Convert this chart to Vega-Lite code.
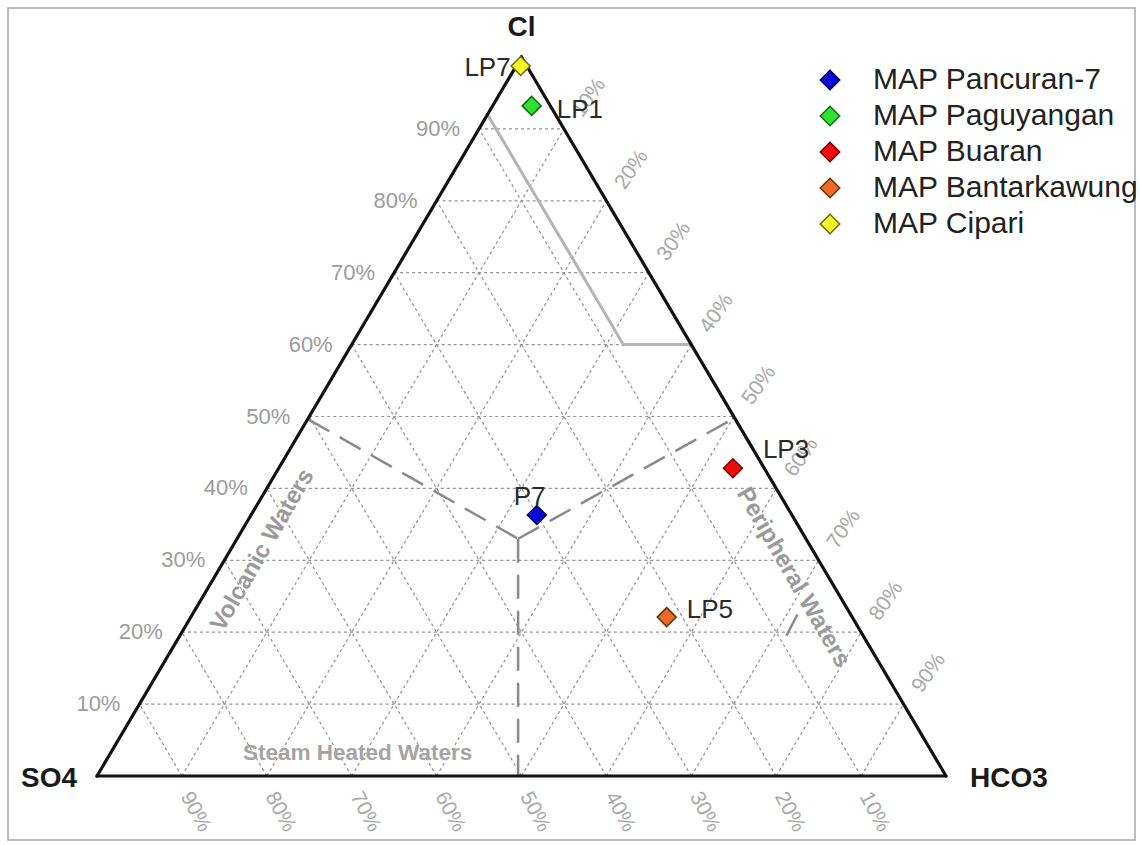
{
  "$schema": "https://vega.github.io/schema/vega-lite/v6.json",
  "width": 1127,
  "height": 832,
  "padding": {"left": 8, "top": 8, "right": 5, "bottom": 5},
  "autosize": {"type": "none"},
  "background": "white",
  "config": {
    "view": {"stroke": "#a8a8a8", "strokeWidth": 1.5},
    "font": "Liberation Sans",
    "text": {"font": "Liberation Sans", "baseline": "middle", "align": "center"}
  },
  "datasets": {
    "grid": [
      {"x": 5, "y": 10, "x2": 95, "y2": 10},
      {"x": 10, "y": 20, "x2": 90, "y2": 20},
      {"x": 15, "y": 30, "x2": 85, "y2": 30},
      {"x": 20, "y": 40, "x2": 80, "y2": 40},
      {"x": 25, "y": 50, "x2": 75, "y2": 50},
      {"x": 30, "y": 60, "x2": 70, "y2": 60},
      {"x": 35, "y": 70, "x2": 65, "y2": 70},
      {"x": 40, "y": 80, "x2": 60, "y2": 80},
      {"x": 45, "y": 90, "x2": 55, "y2": 90},
      {"x": 10, "y": 0, "x2": 55, "y2": 90},
      {"x": 20, "y": 0, "x2": 60, "y2": 80},
      {"x": 30, "y": 0, "x2": 65, "y2": 70},
      {"x": 40, "y": 0, "x2": 70, "y2": 60},
      {"x": 50, "y": 0, "x2": 75, "y2": 50},
      {"x": 60, "y": 0, "x2": 80, "y2": 40},
      {"x": 70, "y": 0, "x2": 85, "y2": 30},
      {"x": 80, "y": 0, "x2": 90, "y2": 20},
      {"x": 90, "y": 0, "x2": 95, "y2": 10},
      {"x": 90, "y": 0, "x2": 45, "y2": 90},
      {"x": 80, "y": 0, "x2": 40, "y2": 80},
      {"x": 70, "y": 0, "x2": 35, "y2": 70},
      {"x": 60, "y": 0, "x2": 30, "y2": 60},
      {"x": 50, "y": 0, "x2": 25, "y2": 50},
      {"x": 40, "y": 0, "x2": 20, "y2": 40},
      {"x": 30, "y": 0, "x2": 15, "y2": 30},
      {"x": 20, "y": 0, "x2": 10, "y2": 20},
      {"x": 10, "y": 0, "x2": 5, "y2": 10}
    ],
    "edges": [
      {"x": 0, "y": 0, "x2": 100, "y2": 0},
      {"x": 0, "y": 0, "x2": 50, "y2": 100},
      {"x": 100, "y": 0, "x2": 50, "y2": 100}
    ],
    "solid": [
      {"x": 46, "y": 92, "x2": 62, "y2": 60},
      {"x": 62, "y": 60, "x2": 70, "y2": 60}
    ],
    "dash": [
      {"x": 24.9, "y": 49.6, "x2": 49.6, "y2": 33},
      {"x": 49.6, "y": 33, "x2": 74.8, "y2": 49.6},
      {"x": 49.6, "y": 33, "x2": 49.6, "y2": 0},
      {"x": 81.2, "y": 19.5, "x2": 82.6, "y2": 22.7}
    ],
    "leftlab": [
      {"x": 5, "y": 10, "t": "10%"},
      {"x": 10, "y": 20, "t": "20%"},
      {"x": 15, "y": 30, "t": "30%"},
      {"x": 20, "y": 40, "t": "40%"},
      {"x": 25, "y": 50, "t": "50%"},
      {"x": 30, "y": 60, "t": "60%"},
      {"x": 35, "y": 70, "t": "70%"},
      {"x": 40, "y": 80, "t": "80%"},
      {"x": 45, "y": 90, "t": "90%"}
    ],
    "rightlab": [
      {"x": 55, "y": 90, "t": "10%"},
      {"x": 60, "y": 80, "t": "20%"},
      {"x": 65, "y": 70, "t": "30%"},
      {"x": 70, "y": 60, "t": "40%"},
      {"x": 75, "y": 50, "t": "50%"},
      {"x": 80, "y": 40, "t": "60%"},
      {"x": 85, "y": 30, "t": "70%"},
      {"x": 90, "y": 20, "t": "80%"},
      {"x": 95, "y": 10, "t": "90%"}
    ],
    "botlab": [
      {"x": 10, "y": 0, "t": "90%"},
      {"x": 20, "y": 0, "t": "80%"},
      {"x": 30, "y": 0, "t": "70%"},
      {"x": 40, "y": 0, "t": "60%"},
      {"x": 50, "y": 0, "t": "50%"},
      {"x": 60, "y": 0, "t": "40%"},
      {"x": 70, "y": 0, "t": "30%"},
      {"x": 80, "y": 0, "t": "20%"},
      {"x": 90, "y": 0, "t": "10%"}
    ],
    "regions": [
      {"t": "Volcanic Waters", "x": 19.5, "y": 31.4},
      {"t": "Peripheral Waters", "x": 82.0, "y": 27.6},
      {"t": "Steam Heated Waters", "x": 30.7, "y": 3.2}
    ],
    "vertices": [
      {"t": "Cl", "x": 50, "y": 100},
      {"t": "SO4", "x": 0, "y": 0},
      {"t": "HCO3", "x": 100, "y": 0}
    ],
    "pts": [
      {"series": "MAP Pancuran-7", "name": "P7", "x": 51.8, "y": 36.3},
      {"series": "MAP Paguyangan", "name": "LP1", "x": 51.2, "y": 93.2},
      {"series": "MAP Buaran", "name": "LP3", "x": 74.9, "y": 42.8},
      {"series": "MAP Bantarkawung", "name": "LP5", "x": 67.1, "y": 22.1},
      {"series": "MAP Cipari", "name": "LP7", "x": 49.9, "y": 98.75}
    ]
  },
  "layer": [
    {
      "data": {"name": "grid"},
      "mark": {"type": "rule", "color": "#929292", "strokeWidth": 1.2, "strokeDash": [3, 3]},
      "encoding": {
        "x": {"field": "x", "type": "quantitative", "scale": {"domain": [-10.483, 122.262], "nice": false, "zero": false}, "axis": null},
        "y": {"field": "y", "type": "quantitative", "scale": {"domain": [-8.901, 106.815], "nice": false, "zero": false}, "axis": null},
        "x2": {"field": "x2"},
        "y2": {"field": "y2"}
      }
    },
    {
      "data": {"name": "solid"},
      "mark": {"type": "rule", "color": "#b4b4b4", "strokeWidth": 3, "strokeCap": "square"},
      "encoding": {
        "x": {"field": "x", "type": "quantitative", "scale": {"domain": [-10.483, 122.262], "nice": false, "zero": false}, "axis": null},
        "y": {"field": "y", "type": "quantitative", "scale": {"domain": [-8.901, 106.815], "nice": false, "zero": false}, "axis": null},
        "x2": {"field": "x2"},
        "y2": {"field": "y2"}
      }
    },
    {
      "data": {"name": "dash"},
      "mark": {"type": "rule", "color": "#8a8a8a", "strokeWidth": 2.5, "strokeDash": [24, 12]},
      "encoding": {
        "x": {"field": "x", "type": "quantitative", "scale": {"domain": [-10.483, 122.262], "nice": false, "zero": false}, "axis": null},
        "y": {"field": "y", "type": "quantitative", "scale": {"domain": [-8.901, 106.815], "nice": false, "zero": false}, "axis": null},
        "x2": {"field": "x2"},
        "y2": {"field": "y2"}
      }
    },
    {
      "data": {"name": "edges"},
      "mark": {"type": "rule", "color": "#111111", "strokeWidth": 3.2, "strokeCap": "round"},
      "encoding": {
        "x": {"field": "x", "type": "quantitative", "scale": {"domain": [-10.483, 122.262], "nice": false, "zero": false}, "axis": null},
        "y": {"field": "y", "type": "quantitative", "scale": {"domain": [-8.901, 106.815], "nice": false, "zero": false}, "axis": null},
        "x2": {"field": "x2"},
        "y2": {"field": "y2"}
      }
    },
    {
      "data": {"name": "leftlab"},
      "mark": {"type": "text", "align": "right", "dx": -19, "fontSize": 22, "color": "#9c9c9c"},
      "encoding": {
        "x": {"field": "x", "type": "quantitative", "scale": {"domain": [-10.483, 122.262], "nice": false, "zero": false}, "axis": null},
        "y": {"field": "y", "type": "quantitative", "scale": {"domain": [-8.901, 106.815], "nice": false, "zero": false}, "axis": null},
        "text": {"field": "t"}
      }
    },
    {
      "data": {"name": "rightlab"},
      "mark": {"type": "text", "dx": 40, "dy": 3, "angle": -55, "fontSize": 21, "color": "#a8a8a8"},
      "encoding": {
        "x": {"field": "x", "type": "quantitative", "scale": {"domain": [-10.483, 122.262], "nice": false, "zero": false}, "axis": null},
        "y": {"field": "y", "type": "quantitative", "scale": {"domain": [-8.901, 106.815], "nice": false, "zero": false}, "axis": null},
        "text": {"field": "t"}
      }
    },
    {
      "data": {"name": "botlab"},
      "mark": {"type": "text", "dx": 38, "dy": 5, "angle": 62, "fontSize": 21, "color": "#a8a8a8"},
      "encoding": {
        "x": {"field": "x", "type": "quantitative", "scale": {"domain": [-10.483, 122.262], "nice": false, "zero": false}, "axis": null},
        "y": {"field": "y", "type": "quantitative", "scale": {"domain": [-8.901, 106.815], "nice": false, "zero": false}, "axis": null},
        "text": {"field": "t"}
      }
    },
    {
      "data": {"name": "regions"},
      "transform": [{"filter": "datum.t == 'Volcanic Waters'"}],
      "mark": {"type": "text", "angle": -60, "fontSize": 24, "fontWeight": "bold", "color": "#9a9a9a"},
      "encoding": {
        "x": {"field": "x", "type": "quantitative", "scale": {"domain": [-10.483, 122.262], "nice": false, "zero": false}, "axis": null},
        "y": {"field": "y", "type": "quantitative", "scale": {"domain": [-8.901, 106.815], "nice": false, "zero": false}, "axis": null},
        "text": {"field": "t"}
      }
    },
    {
      "data": {"name": "regions"},
      "transform": [{"filter": "datum.t == 'Peripheral Waters'"}],
      "mark": {"type": "text", "angle": 60, "fontSize": 24, "fontWeight": "bold", "color": "#9a9a9a"},
      "encoding": {
        "x": {"field": "x", "type": "quantitative", "scale": {"domain": [-10.483, 122.262], "nice": false, "zero": false}, "axis": null},
        "y": {"field": "y", "type": "quantitative", "scale": {"domain": [-8.901, 106.815], "nice": false, "zero": false}, "axis": null},
        "text": {"field": "t"}
      }
    },
    {
      "data": {"name": "regions"},
      "transform": [{"filter": "datum.t == 'Steam Heated Waters'"}],
      "mark": {"type": "text", "fontSize": 22.5, "fontWeight": "bold", "color": "#a4a4a4"},
      "encoding": {
        "x": {"field": "x", "type": "quantitative", "scale": {"domain": [-10.483, 122.262], "nice": false, "zero": false}, "axis": null},
        "y": {"field": "y", "type": "quantitative", "scale": {"domain": [-8.901, 106.815], "nice": false, "zero": false}, "axis": null},
        "text": {"field": "t"}
      }
    },
    {
      "data": {"name": "vertices"},
      "transform": [{"filter": "datum.t == 'Cl'"}],
      "mark": {"type": "text", "dy": -29, "fontSize": 28, "fontWeight": "bold", "color": "#1a1a1a"},
      "encoding": {
        "x": {"field": "x", "type": "quantitative", "scale": {"domain": [-10.483, 122.262], "nice": false, "zero": false}, "axis": null},
        "y": {"field": "y", "type": "quantitative", "scale": {"domain": [-8.901, 106.815], "nice": false, "zero": false}, "axis": null},
        "text": {"field": "t"}
      }
    },
    {
      "data": {"name": "vertices"},
      "transform": [{"filter": "datum.t == 'SO4'"}],
      "mark": {"type": "text", "dx": -48, "dy": 3, "fontSize": 28, "fontWeight": "bold", "color": "#1a1a1a"},
      "encoding": {
        "x": {"field": "x", "type": "quantitative", "scale": {"domain": [-10.483, 122.262], "nice": false, "zero": false}, "axis": null},
        "y": {"field": "y", "type": "quantitative", "scale": {"domain": [-8.901, 106.815], "nice": false, "zero": false}, "axis": null},
        "text": {"field": "t"}
      }
    },
    {
      "data": {"name": "vertices"},
      "transform": [{"filter": "datum.t == 'HCO3'"}],
      "mark": {"type": "text", "dx": 63, "dy": 3, "fontSize": 28, "fontWeight": "bold", "color": "#1a1a1a"},
      "encoding": {
        "x": {"field": "x", "type": "quantitative", "scale": {"domain": [-10.483, 122.262], "nice": false, "zero": false}, "axis": null},
        "y": {"field": "y", "type": "quantitative", "scale": {"domain": [-8.901, 106.815], "nice": false, "zero": false}, "axis": null},
        "text": {"field": "t"}
      }
    },
    {
      "data": {"name": "pts"},
      "transform": [{"filter": "datum.name == 'LP7'"}],
      "mark": {"type": "text", "align": "right", "dx": -10, "dy": 2, "fontSize": 26, "color": "#2a2a2a"},
      "encoding": {
        "x": {"field": "x", "type": "quantitative", "scale": {"domain": [-10.483, 122.262], "nice": false, "zero": false}, "axis": null},
        "y": {"field": "y", "type": "quantitative", "scale": {"domain": [-8.901, 106.815], "nice": false, "zero": false}, "axis": null},
        "text": {"field": "name"}
      }
    },
    {
      "data": {"name": "pts"},
      "transform": [{"filter": "datum.name == 'LP1'"}],
      "mark": {"type": "text", "align": "left", "dx": 25, "dy": 4, "fontSize": 26, "color": "#2a2a2a"},
      "encoding": {
        "x": {"field": "x", "type": "quantitative", "scale": {"domain": [-10.483, 122.262], "nice": false, "zero": false}, "axis": null},
        "y": {"field": "y", "type": "quantitative", "scale": {"domain": [-8.901, 106.815], "nice": false, "zero": false}, "axis": null},
        "text": {"field": "name"}
      }
    },
    {
      "data": {"name": "pts"},
      "transform": [{"filter": "datum.name == 'P7'"}],
      "mark": {"type": "text", "dx": -7, "dy": -18, "fontSize": 26, "color": "#2a2a2a"},
      "encoding": {
        "x": {"field": "x", "type": "quantitative", "scale": {"domain": [-10.483, 122.262], "nice": false, "zero": false}, "axis": null},
        "y": {"field": "y", "type": "quantitative", "scale": {"domain": [-8.901, 106.815], "nice": false, "zero": false}, "axis": null},
        "text": {"field": "name"}
      }
    },
    {
      "data": {"name": "pts"},
      "transform": [{"filter": "datum.name == 'LP3'"}],
      "mark": {"type": "text", "align": "left", "dx": 30, "dy": -18, "fontSize": 26, "color": "#2a2a2a"},
      "encoding": {
        "x": {"field": "x", "type": "quantitative", "scale": {"domain": [-10.483, 122.262], "nice": false, "zero": false}, "axis": null},
        "y": {"field": "y", "type": "quantitative", "scale": {"domain": [-8.901, 106.815], "nice": false, "zero": false}, "axis": null},
        "text": {"field": "name"}
      }
    },
    {
      "data": {"name": "pts"},
      "transform": [{"filter": "datum.name == 'LP5'"}],
      "mark": {"type": "text", "align": "left", "dx": 20, "dy": -7, "fontSize": 26, "color": "#2a2a2a"},
      "encoding": {
        "x": {"field": "x", "type": "quantitative", "scale": {"domain": [-10.483, 122.262], "nice": false, "zero": false}, "axis": null},
        "y": {"field": "y", "type": "quantitative", "scale": {"domain": [-8.901, 106.815], "nice": false, "zero": false}, "axis": null},
        "text": {"field": "name"}
      }
    },
    {
      "data": {"name": "pts"},
      "mark": {"type": "point", "shape": "diamond", "size": 360, "filled": true, "opacity": 1, "strokeWidth": 1.5},
      "encoding": {
        "x": {"field": "x", "type": "quantitative", "scale": {"domain": [-10.483, 122.262], "nice": false, "zero": false}, "axis": null},
        "y": {"field": "y", "type": "quantitative", "scale": {"domain": [-8.901, 106.815], "nice": false, "zero": false}, "axis": null},
        "fill": {
          "field": "series", "type": "nominal",
          "scale": {"domain": ["MAP Pancuran-7", "MAP Paguyangan", "MAP Buaran", "MAP Bantarkawung", "MAP Cipari"],
                    "range": ["#0a0ad0", "#2fe02f", "#ee0a0a", "#ee6a2a", "#f6f62a"]},
          "legend": {"title": null, "orient": "none", "legendX": 807, "legendY": 57, "symbolType": "diamond", "symbolSize": 380,
                     "symbolStrokeWidth": 1.5, "labelFontSize": 30, "labelFont": "Liberation Sans", "labelColor": "#222222",
                     "labelOffset": 28, "rowPadding": 6, "labelLimit": 400}
        },
        "stroke": {
          "field": "series", "type": "nominal",
          "scale": {"domain": ["MAP Pancuran-7", "MAP Paguyangan", "MAP Buaran", "MAP Bantarkawung", "MAP Cipari"],
                    "range": ["#00006a", "#1a6a1a", "#7a0000", "#6a3000", "#6a6a00"]},
          "legend": {"title": null, "orient": "none", "legendX": 807, "legendY": 57, "symbolType": "diamond", "symbolSize": 380,
                     "symbolStrokeWidth": 1.5, "labelFontSize": 30, "labelFont": "Liberation Sans", "labelColor": "#222222",
                     "labelOffset": 28, "rowPadding": 6, "labelLimit": 400}
        }
      }
    }
  ]
}
